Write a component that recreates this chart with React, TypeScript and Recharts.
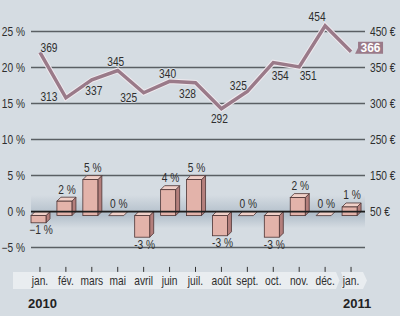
import React from 'react';
import { ComposedChart, Bar, Line, XAxis, YAxis, CartesianGrid, ReferenceLine, ReferenceArea, LabelList } from 'recharts';

const months = ['jan.', 'fév.', 'mars', 'mai', 'avril', 'juin', 'juil.', 'août', 'sept.', 'oct.', 'nov.', 'déc.', 'jan.'];
const linePct = [22.1, 15.8, 18.3, 19.6, 16.5, 18.1, 17.9, 14.3, 16.7, 20.7, 20.1, 25.8, 22.2];
const amountEuro = [369, 313, 337, 345, 325, 340, 328, 292, 325, 354, 351, 454, 366];
const changePct = [-1, 2, 5, 0, -3, 3.6, 5, -2.8, 0, -3, 2.5, 0, 1.2];
const changeLabels = ['−1 %', '2 %', '5 %', '0 %', '-3 %', '4 %', '5 %', '-3 %', '0 %', '-3 %', '2 %', '0 %', '1 %'];
const leftTicks = [-5, 0, 5, 10, 15, 20, 25];
const leftTickLabels = ['−5 %', '0 %', '5 %', '10 %', '15 %', '20 %', '25 %'];
const rightTickLabels = ['', '50 €', '150 €', '250 €', '300 €', '350 €', '450 €'];
const yearLabels = ['2010', '2011'];

// layout: label offsets (dx, dy) for line value labels
const LINE_LABEL_OFFSETS: [number, number][] = [
  [9, -5], [-17, -1], [2, 11], [-2, -9], [-15, 5], [-2, -8], [-8, 11], [-2, 10], [-9, -6], [7, 13], [9, 9], [-8, -9], [0, 0],
];

const data = months.map((m, i) => ({
  month: m,
  pos: linePct[i],
  amount: amountEuro[i],
  change: changePct[i],
  changeLabel: changeLabels[i],
}));

const FONT = "'Liberation Sans', Arial, Helvetica, sans-serif";
const BG = '#d5dce2';
const MAUVE = '#9a7a89';
const TEXT = '#2e2e2e';
const D = 4;
const GRID_LEFT = 31;

const NText = (p: any) => {
  const { x, y, anchor = 'middle', size = 12, bold = false, fill = TEXT, halo, sx = 0.85, children } = p;
  return (
    <text transform={`translate(${x},${y}) scale(${sx},1)`} x={0} y={0} textAnchor={anchor} dominantBaseline="central"
      fontSize={size} fontWeight={bold ? 'bold' : 'normal'} fontFamily={FONT} fill={fill}
      stroke={halo || 'none'} strokeWidth={halo ? 2 : 0} paintOrder="stroke">
      {children}
    </text>
  );
};

const Box3D = (props: any) => {
  const { x, y, width, height } = props;
  if (x == null || y == null) return null;
  const h = height || 0;
  const top = Math.min(y, y + h);
  const bot = Math.max(y, y + h);
  const w = width;
  const fx = x - 1;
  const stroke = '#4d3434';
  const sw = 0.8;
  const topFace = `${fx},${top + D} ${fx + D},${top} ${fx + D + w},${top} ${fx + w},${top + D}`;
  const side = `${fx + w},${top + D} ${fx + w + D},${top} ${fx + w + D},${bot} ${fx + w},${bot + D}`;
  return (
    <g>
      {bot - top > 0.5 && <polygon points={side} fill="#b47f7c" stroke={stroke} strokeWidth={sw} />}
      <polygon points={topFace} fill="#f0d0c8" stroke={stroke} strokeWidth={sw} />
      {bot - top > 0.5 && (
        <rect x={fx} y={top + D} width={w} height={bot - top} fill="#e3b3aa" stroke={stroke} strokeWidth={sw} />
      )}
    </g>
  );
};

const BarLabel = (props: any) => {
  const { x, y, width, height, index } = props;
  if (x == null) return null;
  const h = height || 0;
  const top = Math.min(y, y + h);
  const bot = Math.max(y, y + h);
  const v = changePct[index];
  const cx = x + width / 2 + 1.5;
  const cy = v < 0 ? bot + D + 7 : top - 8;
  return <NText x={cx} y={cy}>{changeLabels[index]}</NText>;
};

const LineLabel = (props: any) => {
  const { x, y, index } = props;
  if (x == null) return null;
  if (index === amountEuro.length - 1) {
    const bx = x + 7;
    const by = y - 10;
    return (
      <g>
        <polygon points={`${bx - 3},${by + 12} ${bx},${by + 6} ${bx},${by + 12}`} fill={MAUVE} />
        <rect x={bx} y={by} width={25} height={12} fill={MAUVE} />
        <NText x={bx + 12.5} y={by + 6.5} size={13} bold fill="#ffffff" sx={0.92}>{amountEuro[index]}</NText>
      </g>
    );
  }
  const [dx, dy] = LINE_LABEL_OFFSETS[index];
  return <NText x={x + dx} y={y + dy} halo={BG}>{amountEuro[index]}</NText>;
};

const MonthTick = (props: any) => {
  const { x, y, payload } = props;
  return (
    <g>
      <line x1={x} x2={x} y1={y - 9.5} y2={y - 4.5} stroke="#333" strokeWidth={1} />
      <NText x={x} y={y + 4.5}>{payload.value}</NText>
    </g>
  );
};

const LeftTick = (props: any) => {
  const { y, payload } = props;
  const label = leftTickLabels[leftTicks.indexOf(payload.value)] ?? '';
  return <NText x={25} y={y} anchor="end">{label}</NText>;
};

const RightTick = (props: any) => {
  const { y, payload } = props;
  const label = rightTickLabels[leftTicks.indexOf(payload.value)] ?? '';
  return <NText x={370} y={y} anchor="start">{label}</NText>;
};

const GridLine = (p: any) => (
  <line x1={GRID_LEFT} x2={p.x2 + 1} y1={p.y1} y2={p.y2} stroke="#5a5f63" strokeWidth={1.5} />
);

const ZeroLine = (p: any) => (
  <line x1={GRID_LEFT} x2={p.x2 + 1} y1={p.y1} y2={p.y2} stroke="#1e1e1e" strokeWidth={1.6} />
);

const ZeroBand = (p: any) => (
  <rect x={GRID_LEFT} y={p.y} width={p.x + p.width + 1 - GRID_LEFT} height={p.height} fill="url(#zeroBand)" />
);

export default function App() {
  return (
    <div style={{ position: 'absolute', left: 0, top: 0, width: 400, height: 323, background: '#ffffff', overflow: 'hidden' }}>
      <div style={{ position: 'absolute', left: 0, top: 0, width: 400, height: 316, background: BG }} />
      <svg width={400} height={323} style={{ position: 'absolute', left: 0, top: 0 }}>
        <path d="M13,272 H336 L339.5,280.5 L336,289 H13 Z" fill="#e9edf0" />
        <path d="M341,272 H363 L367,280.5 L363,289 H341 L344,280.5 Z" fill="#e9edf0" />
        <text x={28} y={308} fontSize={13} fontWeight="bold" fontFamily={FONT} fill="#222">{yearLabels[0]}</text>
        <text x={343} y={308} fontSize={13} fontWeight="bold" fontFamily={FONT} fill="#222">{yearLabels[1]}</text>
      </svg>
      <div style={{ position: 'absolute', left: 0, top: 0 }}>
        <ComposedChart width={400} height={323} data={data} margin={{ top: 10, right: 0, bottom: 16.6, left: 0 }}>
          <defs>
            <linearGradient id="zeroBand" x1="0" y1="0" x2="0" y2="1">
              <stop offset="0%" stopColor="#aebbc7" stopOpacity={0} />
              <stop offset="60%" stopColor="#aebbc7" stopOpacity={0.9} />
              <stop offset="100%" stopColor="#aebbc7" stopOpacity={0} />
            </linearGradient>
          </defs>
          <ReferenceArea yAxisId="left" y1={-2.3} y2={2.3} shape={<ZeroBand />} ifOverflow="visible" />
          <CartesianGrid yAxisId="left" vertical={false} horizontalValues={leftTicks} horizontal={(p: any) => <GridLine key={p.key} {...p} />} />
          <XAxis dataKey="month" height={30} tickLine={false} axisLine={false} tickSize={0} tickMargin={0}
            interval={0} tick={<MonthTick />} />
          <YAxis yAxisId="left" domain={[-9, 28]} ticks={leftTicks} allowDataOverflow width={27}
            tickLine={false} axisLine={false} tick={<LeftTick />} />
          <YAxis yAxisId="right" orientation="right" domain={[-9, 28]} ticks={leftTicks} allowDataOverflow width={36}
            tickLine={false} axisLine={false} tick={<RightTick />} />
          <ReferenceLine yAxisId="left" y={0} shape={<ZeroLine />} />
          <Bar yAxisId="left" dataKey="change" barSize={15} shape={<Box3D />} isAnimationActive={false}>
            <LabelList dataKey="changeLabel" content={<BarLabel />} />
          </Bar>
          <Line yAxisId="left" dataKey="pos" type="linear" stroke="#efe9ee" strokeWidth={5.5} dot={false}
            strokeLinejoin="miter" isAnimationActive={false} />
          <Line yAxisId="left" dataKey="pos" type="linear" stroke={MAUVE} strokeWidth={3.5} dot={false}
            strokeLinejoin="miter" isAnimationActive={false}>
            <LabelList dataKey="amount" content={<LineLabel />} />
          </Line>
        </ComposedChart>
      </div>
    </div>
  );
}
